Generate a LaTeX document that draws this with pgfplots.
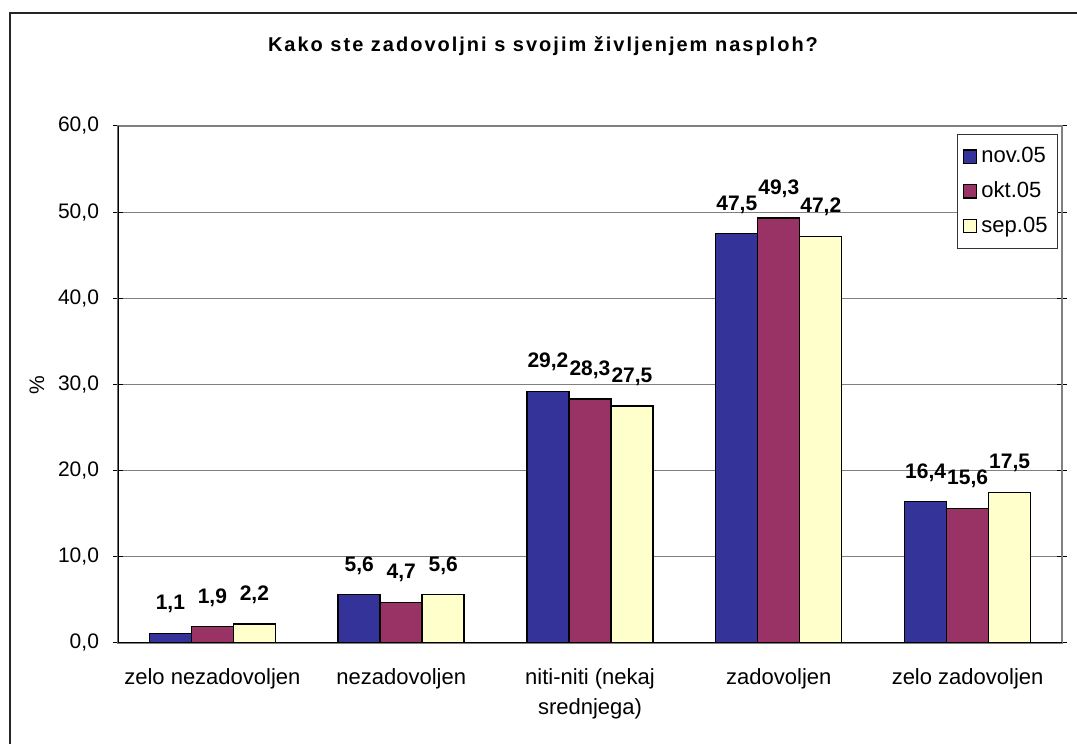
\documentclass[border=0pt]{standalone}
\usepackage{fontspec}
\setmainfont{Liberation Sans}
\usepackage{pgfplots}
\pgfplotsset{compat=1.18}
\definecolor{cnov}{HTML}{333399}
\definecolor{cokt}{HTML}{993366}
\definecolor{csep}{HTML}{FFFFCC}
\definecolor{gridgray}{HTML}{808080}

\pgfplotstableread{
x nov okt sep
0 1.1 1.9 2.2
1 5.6 4.7 5.6
2 29.2 28.3 27.5
3 47.5 49.3 47.2
4 16.4 15.6 17.5
}\data

\begin{document}
\begin{tikzpicture}
\useasboundingbox (0,0) rectangle (538.5pt,372pt);
\draw[line width=0.7pt,black!85] (5pt,0) -- (5pt,365.5pt) -- (540pt,365.5pt);
\node[font=\bfseries\fontsize{10}{12}\selectfont\addfontfeature{LetterSpace=10}] at (271.5pt,349pt) {Kako ste zadovoljni s svojim življenjem nasploh?};
\node[rotate=90, font=\fontsize{10.5}{12}\selectfont] at (18.5pt,179.5pt) {\%};
\begin{axis}[
  at={(59pt,50.5pt)}, anchor=south west,
  scale only axis,
  width=472pt, height=258.5pt,
  ybar=0pt, bar width=21pt,
  xmin=-0.5, xmax=4.5,
  ymin=0, ymax=60,
  ytick={0,10,...,60},
  xtick={0,...,4},
  xticklabels={zelo nezadovoljen, nezadovoljen, {niti-niti (nekaj\\srednjega)}, zadovoljen, zelo zadovoljen},
  xticklabel style={align=center, font=\fontsize{11}{15}\selectfont, yshift=-4pt},
  x tick style={draw=none},
  extra x ticks={-0.5,0.5,...,4.5},
  extra x tick labels={},
  extra x tick style={grid=none, tick style={draw=black, line width=0.5pt}, tick align=outside, major tick length=3pt},
  ytick align=center,
  major tick length=5pt,
  y tick style={black, line width=0.5pt},
  yticklabel style={font=\fontsize{10.5}{13}\selectfont, xshift=-3.5pt},
  /pgf/number format/.cd, fixed, fixed zerofill, precision=1, use comma, assume math mode=true,
  /pgfplots/.cd,
  ymajorgrids,
  grid style={gridgray, line width=0.5pt},
  axis line style={gridgray, line width=0.6pt},
  nodes near coords,
  every node near coord/.append style={font=\bfseries\fontsize{10.5}{12}\selectfont, yshift=6.5pt},
  legend style={at={(rel axis cs:0.9958,0.9845)}, anchor=north east, draw=black!80, line width=0.5pt,
    font=\fontsize{11}{12}\selectfont, row sep=4pt, inner xsep=3pt, inner ysep=4.5pt},
  legend cell align=left,
  legend image code/.code={\draw[#1,draw=black,line width=0.6pt] (0pt,-3.3pt) rectangle (6.6pt,3.3pt);},
]
\addplot[fill=cnov, draw=black, line width=0.7pt] table[x=x,y=nov] {\data};
\addlegendentry{nov.05}
\addplot[fill=cokt, draw=black, line width=0.7pt] table[x=x,y=okt] {\data};
\addlegendentry{okt.05}
\addplot[fill=csep, draw=black, line width=0.7pt] table[x=x,y=sep] {\data};
\addlegendentry{sep.05}
\draw[black, line width=0.6pt] (rel axis cs:0,0) -- (rel axis cs:0,1);
\draw[black, line width=0.6pt] (rel axis cs:0,0) -- (rel axis cs:1,0);
\end{axis}
\end{tikzpicture}
\end{document}
